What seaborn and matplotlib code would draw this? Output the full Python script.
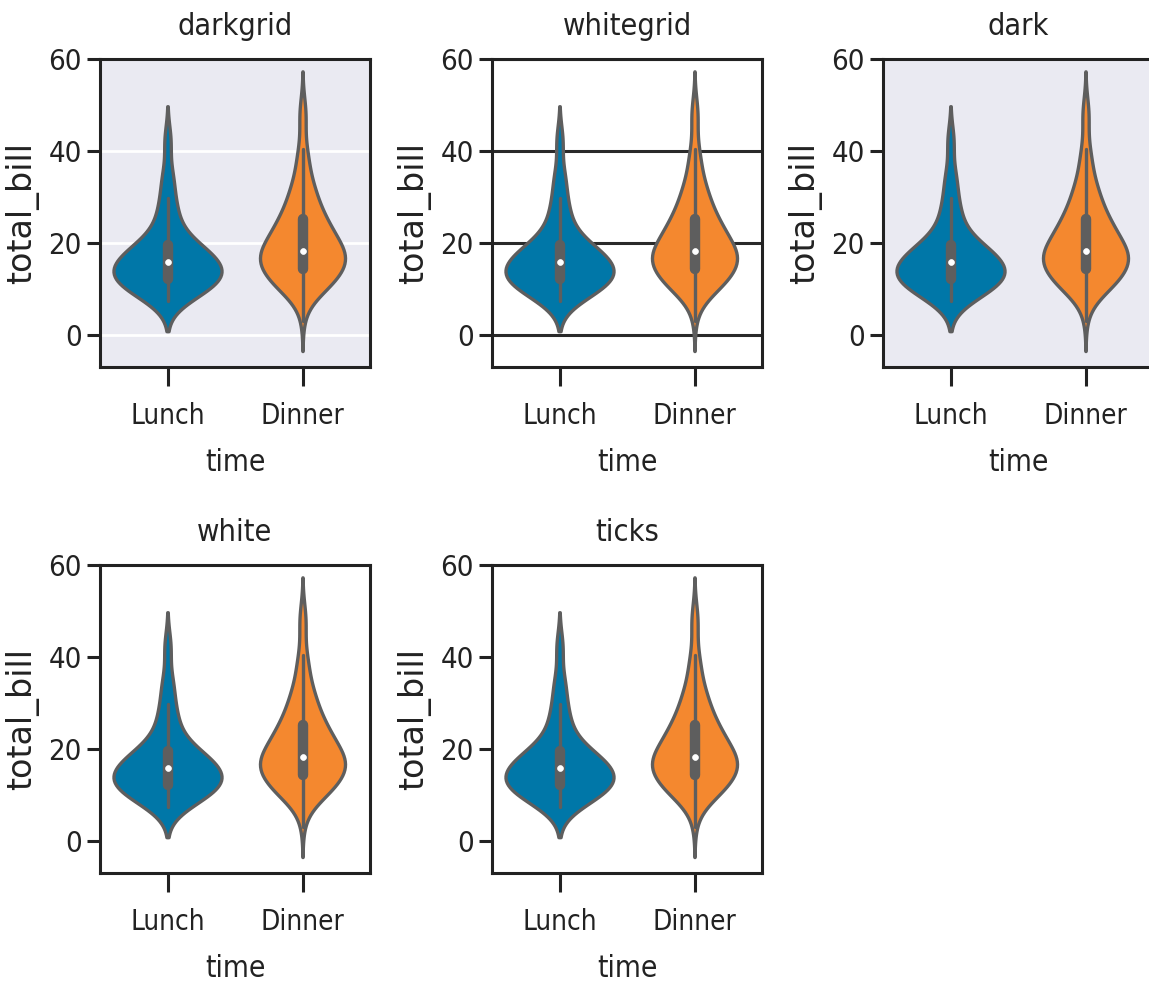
import matplotlib
matplotlib.use("Agg")
import matplotlib.pyplot as plt
import pandas as pd
import seaborn as sns

# five seaborn styles, one violin panel each
styles = ["darkgrid", "whitegrid", "dark", "white", "ticks"]
times = ["Lunch", "Dinner"]
pal = ["#0077A8", "#F4882F"]

# total_bill values (tips), split by time
lunch_bill = [27.20, 22.76, 17.29, 19.44, 16.66, 10.07, 32.68, 15.98, 34.83, 13.03,
              18.28, 24.71, 21.16, 10.65, 12.43, 24.08, 11.69, 13.42, 14.26, 15.95,
              12.48, 29.80, 8.52, 14.52, 11.38, 22.82, 19.08, 20.27, 11.17, 12.26,
              18.26, 8.51, 10.33, 14.15, 16.00, 13.16, 17.47, 34.30, 41.19, 27.05,
              16.43, 8.35, 18.64, 11.87, 9.78, 7.51, 19.81, 28.44, 15.48, 16.58,
              7.56, 10.34, 43.11, 13.00, 13.51, 18.71, 12.74, 13.00, 16.40, 20.53,
              16.47, 12.16, 13.42, 8.58, 15.98, 13.42, 16.27, 10.09]
dinner_bill = [16.99, 10.34, 21.01, 23.68, 24.59, 25.29, 8.77, 26.88, 15.04, 14.78,
               10.27, 35.26, 15.42, 18.43, 14.83, 21.58, 10.33, 16.29, 16.97, 20.65,
               17.92, 20.29, 15.77, 39.42, 19.82, 17.81, 13.37, 12.69, 21.70, 19.65,
               9.55, 18.35, 15.06, 20.69, 17.78, 24.06, 16.31, 16.93, 18.69, 31.27,
               16.04, 17.46, 13.94, 9.68, 30.40, 18.29, 22.23, 32.40, 28.55, 18.04,
               12.54, 10.29, 34.81, 9.94, 25.56, 19.49, 38.01, 26.41, 11.24, 48.27,
               20.29, 13.81, 11.02, 18.29, 17.59, 20.08, 16.45, 3.07, 20.23, 15.01,
               12.02, 17.07, 26.86, 25.28, 14.73, 10.51, 17.92, 28.97, 22.49, 5.75,
               16.32, 22.75, 40.17, 27.28, 12.03, 21.01, 12.46, 11.35, 15.38, 44.30,
               22.42, 20.92, 15.36, 20.49, 25.21, 18.24, 14.31, 14.00, 7.25, 38.07,
               23.95, 25.71, 17.31, 29.93, 14.07, 13.13, 17.26, 24.55, 19.77, 29.85,
               48.17, 25.00, 13.39, 16.49, 21.50, 12.66, 16.21, 13.81, 17.51, 24.52,
               20.76, 31.71, 10.59, 10.63, 50.81, 15.81, 7.25, 31.85, 16.82, 32.90,
               17.89, 14.48, 9.60, 34.63, 34.65, 23.33, 45.35, 23.17, 40.55, 20.69,
               20.90, 30.46, 18.15, 23.10, 15.69, 26.59, 38.73, 24.27, 12.76, 30.06,
               25.89, 48.33, 13.27, 28.17, 12.90, 28.15, 11.59, 7.74, 30.14, 20.45,
               13.28, 22.12, 24.01, 15.69, 11.61, 10.77, 15.53, 10.07, 12.60, 32.83,
               35.83, 29.03, 27.18, 22.67, 17.82, 18.78]

tips = pd.DataFrame({
    "time": ["Lunch"] * len(lunch_bill) + ["Dinner"] * len(dinner_bill),
    "total_bill": lunch_bill + dinner_bill,
})
tips["time"] = pd.Categorical(tips["time"], categories=times)

sns.set_theme(style="ticks")
ink = "#222222"
plt.rcParams["font.family"] = ["DejaVu Sans"]
plt.rcParams["font.stretch"] = "condensed"
plt.rcParams["text.color"] = ink
plt.rcParams["axes.labelcolor"] = ink
plt.rcParams["xtick.color"] = ink
plt.rcParams["ytick.color"] = ink

W, H = 1149, 983
fig = plt.figure(figsize=(W / 100, H / 100), dpi=100)

# panel layout in pixels (third column runs off the right edge, as in the reference)
lefts = [100, 492, 883]
tops = [59, 565]
aw, ah = 270, 308

for i, style in enumerate(styles):
    row, col = divmod(i, 3)
    ax = fig.add_axes([lefts[col] / W, 1 - (tops[row] + ah) / H, aw / W, ah / H])

    sns.violinplot(data=tips, x="time", y="total_bill", hue="time", order=times,
                   hue_order=times, palette=pal, saturation=1, legend=False,
                   common_norm=True, linewidth=2.4, linecolor="#5e5e5e",
                   inner_kws=dict(box_width=7.5, whis_width=2.4, marker="o"), ax=ax)

    # white median dot, like the older seaborn look
    for ln in ax.lines:
        if ln.get_marker() == "o":
            ln.set_markersize(4.2)
            ln.set_markerfacecolor("white")
            ln.set_markeredgecolor("white")
            ln.set_markeredgewidth(0.5)

    ax.set_ylim(-6.9, 60)
    ax.set_yticks([0, 20, 40, 60])
    ax.set_axisbelow(True)

    if style in ("darkgrid", "dark"):
        ax.set_facecolor("#EAEAF2")
    else:
        ax.set_facecolor("white")
    ax.xaxis.grid(False)
    if style == "darkgrid":
        ax.yaxis.grid(True, color="white", linewidth=2.0)
    elif style == "whitegrid":
        ax.yaxis.grid(True, color="#2a2a2a", linewidth=2.2)
    else:
        ax.yaxis.grid(False)

    for s in ax.spines.values():
        s.set_visible(True)
        s.set_color(ink)
        s.set_linewidth(2.2)

    ax.tick_params(axis="x", direction="out", length=14, width=2.2, pad=11, labelsize=20)
    ax.tick_params(axis="y", direction="out", length=9.5, width=2.2, pad=3.5, labelsize=21)

    ax.set_title(style, fontsize=22, pad=17)
    ax.set_xlabel("time", fontsize=21.5, labelpad=13)
    ax.set_ylabel("total_bill", fontsize=24, labelpad=7, fontstretch="normal")

fig.savefig("out.png", dpi=100)
